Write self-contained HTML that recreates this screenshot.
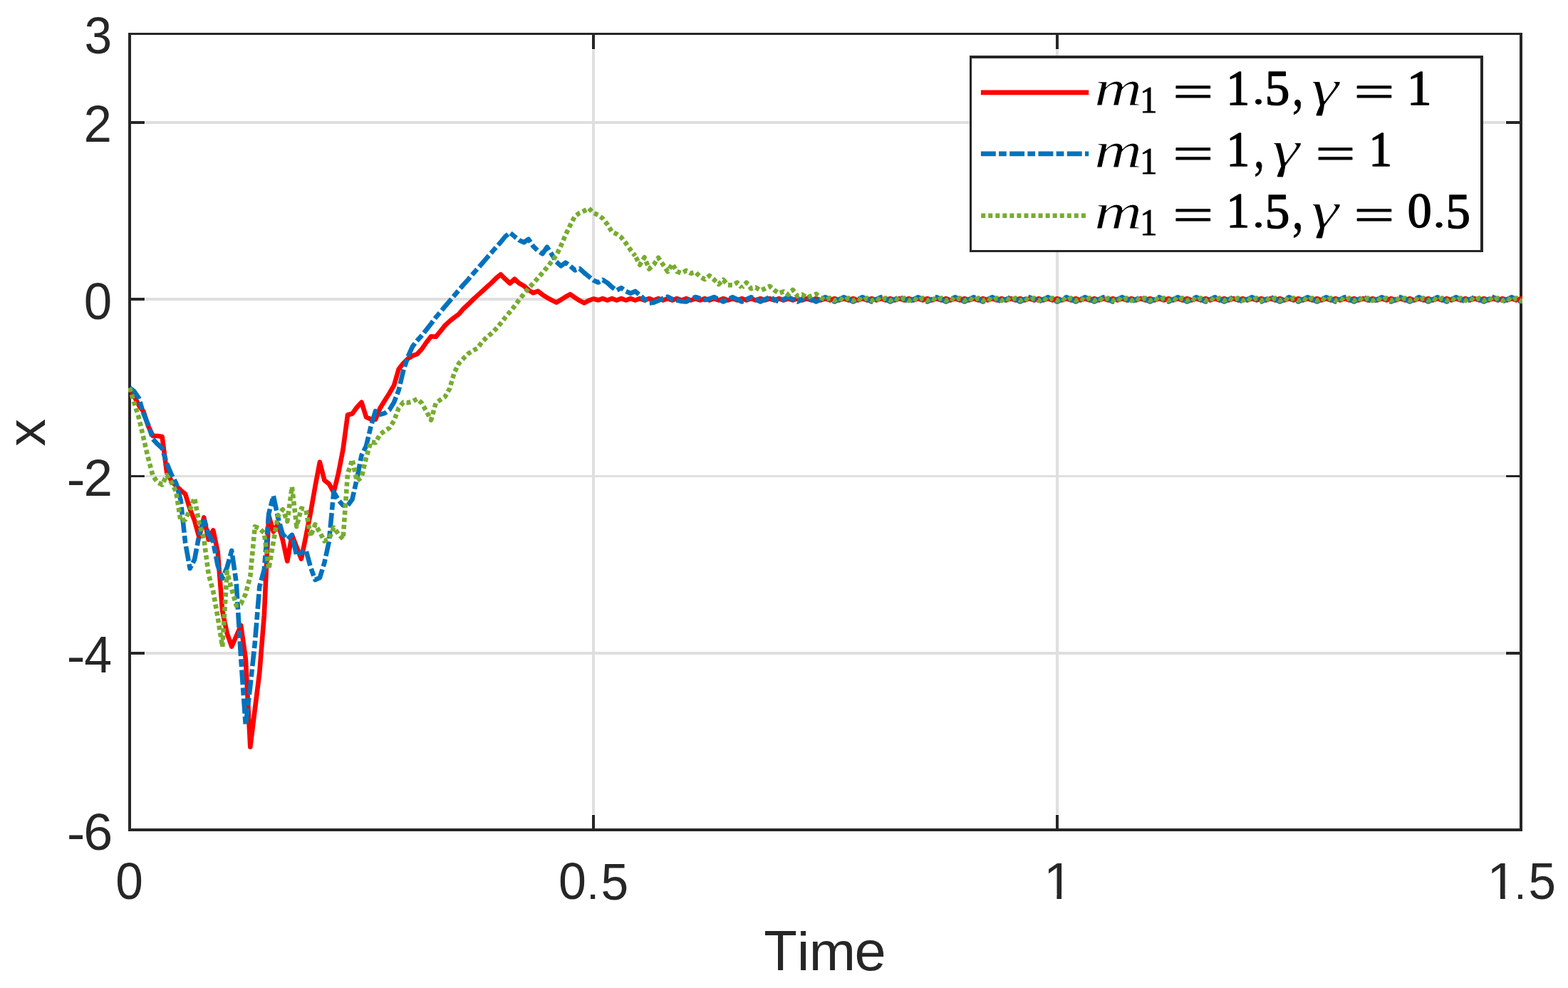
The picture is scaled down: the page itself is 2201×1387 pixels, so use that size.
<!DOCTYPE html>
<html lang="en"><head><meta charset="utf-8"><title>x vs Time</title>
<style>html,body{margin:0;padding:0;background:#fff}svg{display:block}text{white-space:pre}</style></head><body>
<svg xmlns="http://www.w3.org/2000/svg" width="2201" height="1387" viewBox="0 0 2201 1387">
<rect width="2201" height="1387" fill="#fff"/>
<defs><clipPath id="ax"><rect x="180" y="46" width="1957" height="1121"/></clipPath></defs>
<g fill="#dfdfdf">
<rect x="831" y="70" width="4" height="1073"/>
<rect x="1482" y="70" width="4" height="1073"/>
<rect x="204" y="170" width="1909" height="4"/>
<rect x="204" y="418" width="1909" height="4"/>
<rect x="204" y="667" width="1909" height="3"/>
<rect x="204" y="915" width="1909" height="4"/>
</g>
<g fill="#262626">
<rect x="180" y="46" width="1957" height="3"/>
<rect x="180" y="1163" width="1957" height="4"/>
<rect x="180" y="46" width="4" height="1121"/>
<rect x="2133" y="46" width="4" height="1121"/>
<rect x="831" y="46" width="4" height="23"/>
<rect x="831" y="1144" width="4" height="23"/>
<rect x="1482" y="46" width="4" height="23"/>
<rect x="1482" y="1144" width="4" height="23"/>
<rect x="180" y="170" width="23" height="4"/>
<rect x="2114" y="170" width="23" height="4"/>
<rect x="180" y="418" width="23" height="4"/>
<rect x="2114" y="418" width="23" height="4"/>
<rect x="180" y="667" width="23" height="3"/>
<rect x="2114" y="667" width="23" height="3"/>
<rect x="180" y="915" width="23" height="4"/>
<rect x="2114" y="915" width="23" height="4"/>
</g>
<g clip-path="url(#ax)" fill="none" stroke-width="6.6" stroke-linejoin="round" stroke-linecap="butt">
<path stroke="#ff0000" d="M182.0,544.3 L188.5,556.6 L195.0,569.0 L201.5,578.0 L208.0,598.0 L214.6,612.0 L221.1,612.0 L227.6,613.0 L234.1,663.0 L240.6,675.0 L247.1,682.0 L253.6,688.2 L260.1,693.6 L266.6,714.5 L273.1,730.9 L279.6,754.5 L286.2,726.4 L292.7,757.6 L299.2,744.4 L305.7,775.0 L312.2,858.0 L318.7,889.0 L325.2,907.7 L331.7,893.0 L338.2,878.0 L344.8,925.0 L351.3,1048.5 L357.8,996.0 L364.3,944.0 L370.8,864.0 L377.3,724.0 L383.8,746.4 L390.3,735.5 L396.8,758.0 L403.3,787.7 L409.9,751.3 L416.4,768.0 L422.9,784.5 L429.4,753.0 L435.9,720.0 L442.4,683.0 L448.9,648.7 L455.4,674.1 L461.9,679.4 L468.4,691.2 L474.9,665.0 L481.5,631.0 L488.0,582.5 L494.5,580.7 L501.0,571.8 L507.5,564.7 L514.0,585.4 L520.5,588.4 L527.0,589.0 L533.5,573.0 L540.0,562.4 L546.6,552.0 L553.1,540.8 L559.6,518.3 L566.1,510.0 L572.6,503.6 L579.1,499.4 L585.6,497.0 L592.1,490.0 L598.6,480.5 L605.1,472.2 L611.7,472.8 L618.2,465.1 L624.7,456.9 L631.2,450.9 L637.7,445.6 L644.2,440.9 L650.7,433.2 L657.2,427.3 L663.7,420.8 L670.2,414.9 L676.8,409.0 L683.3,403.0 L689.8,397.1 L696.3,390.6 L702.8,385.3 L709.3,391.8 L715.8,397.7 L722.3,391.8 L728.8,397.7 L735.4,401.3 L741.9,407.2 L748.4,411.3 L754.9,408.7 L761.4,413.7 L767.9,417.8 L774.4,421.4 L780.9,424.6 L787.4,420.8 L793.9,416.7 L800.4,413.1 L807.0,417.7 L813.5,421.9 L820.0,425.4 L826.5,421.9 L833.0,419.5 L839.5,421.3 L846.0,419.1 L852.5,421.5 L859.0,419.1 L865.5,421.5 L872.1,419.1 L878.6,421.5 L885.1,419.1 L891.6,421.5 L898.1,419.1 L904.6,421.5 L911.1,419.1 L917.6,421.5 L924.1,419.1 L930.6,421.5 L937.2,419.1 L943.7,421.5 L950.2,419.1 L956.7,421.5 L963.2,419.1 L969.7,421.5 L976.2,419.1 L982.7,421.5 L989.2,419.1 L995.8,421.5 L1002.3,419.1 L1008.8,421.5 L1015.3,419.1 L1021.8,421.5 L1028.3,419.1 L1034.8,421.5 L1041.3,419.1 L1047.8,421.5 L1054.3,419.1 L1060.8,421.5 L1067.4,419.1 L1073.9,421.5 L1080.4,419.1 L1086.9,421.5 L1093.4,419.1 L1099.9,421.5 L1106.4,419.1 L1112.9,421.5 L1119.4,419.1 L1125.9,421.5 L1132.5,419.1 L1139.0,421.5 L1145.5,419.1 L1152.0,421.5 L1158.5,419.1 L1165.0,421.5 L1171.5,419.1 L1178.0,421.5 L1184.5,419.1 L1191.0,421.5 L1197.6,419.1 L1204.1,421.5 L1210.6,419.1 L1217.1,421.5 L1223.6,419.1 L1230.1,421.5 L1236.6,419.1 L1243.1,421.5 L1249.6,419.1 L1256.1,421.5 L1262.7,419.1 L1269.2,421.5 L1275.7,419.1 L1282.2,421.5 L1288.7,419.1 L1295.2,421.5 L1301.7,419.1 L1308.2,421.5 L1314.7,419.1 L1321.2,421.5 L1327.8,419.1 L1334.3,421.5 L1340.8,419.1 L1347.3,421.5 L1353.8,419.1 L1360.3,421.5 L1366.8,419.1 L1373.3,421.5 L1379.8,419.1 L1386.3,421.5 L1392.9,419.1 L1399.4,421.5 L1405.9,419.1 L1412.4,421.5 L1418.9,419.1 L1425.4,421.5 L1431.9,419.1 L1438.4,421.5 L1444.9,419.1 L1451.5,421.5 L1458.0,419.1 L1464.5,421.5 L1471.0,419.1 L1477.5,421.5 L1484.0,419.1 L1490.5,421.5 L1497.0,419.1 L1503.5,421.5 L1510.0,419.1 L1516.5,421.5 L1523.1,419.1 L1529.6,421.5 L1536.1,419.1 L1542.6,421.5 L1549.1,419.1 L1555.6,421.5 L1562.1,419.1 L1568.6,421.5 L1575.1,419.1 L1581.6,421.5 L1588.2,419.1 L1594.7,421.5 L1601.2,419.1 L1607.7,421.5 L1614.2,419.1 L1620.7,421.5 L1627.2,419.1 L1633.7,421.5 L1640.2,419.1 L1646.8,421.5 L1653.3,419.1 L1659.8,421.5 L1666.3,419.1 L1672.8,421.5 L1679.3,419.1 L1685.8,421.5 L1692.3,419.1 L1698.8,421.5 L1705.3,419.1 L1711.8,421.5 L1718.4,419.1 L1724.9,421.5 L1731.4,419.1 L1737.9,421.5 L1744.4,419.1 L1750.9,421.5 L1757.4,419.1 L1763.9,421.5 L1770.4,419.1 L1777.0,421.5 L1783.5,419.1 L1790.0,421.5 L1796.5,419.1 L1803.0,421.5 L1809.5,419.1 L1816.0,421.5 L1822.5,419.1 L1829.0,421.5 L1835.5,419.1 L1842.0,421.5 L1848.6,419.1 L1855.1,421.5 L1861.6,419.1 L1868.1,421.5 L1874.6,419.1 L1881.1,421.5 L1887.6,419.1 L1894.1,421.5 L1900.6,419.1 L1907.1,421.5 L1913.7,419.1 L1920.2,421.5 L1926.7,419.1 L1933.2,421.5 L1939.7,419.1 L1946.2,421.5 L1952.7,419.1 L1959.2,421.5 L1965.7,419.1 L1972.2,421.5 L1978.8,419.1 L1985.3,421.5 L1991.8,419.1 L1998.3,421.5 L2004.8,419.1 L2011.3,421.5 L2017.8,419.1 L2024.3,421.5 L2030.8,419.1 L2037.3,421.5 L2043.9,419.1 L2050.4,421.5 L2056.9,419.1 L2063.4,421.5 L2069.9,419.1 L2076.4,421.5 L2082.9,419.1 L2089.4,421.5 L2095.9,419.1 L2102.4,421.5 L2109.0,419.1 L2115.5,421.5 L2122.0,419.1 L2128.5,421.5 L2135.0,419.1 L2138,419.1"/>
<path stroke="#0072bd" stroke-dasharray="20.9 4.3 10.7 4.4" d="M182.0,544.3 L188.5,549.5 L195.0,559.0 L201.5,580.8 L208.0,596.2 L214.6,616.3 L221.1,623.4 L227.6,629.3 L234.1,650.6 L240.6,666.0 L247.1,678.0 L253.6,701.8 L260.1,761.8 L266.6,798.0 L273.1,785.4 L279.6,750.9 L286.2,727.7 L292.7,750.0 L299.2,760.9 L305.7,794.0 L312.2,812.0 L318.7,796.5 L325.2,773.0 L331.7,818.0 L338.2,924.0 L344.8,1018.0 L351.3,963.0 L357.8,902.7 L364.3,823.6 L370.8,800.0 L377.3,721.0 L383.8,696.0 L390.3,727.0 L396.8,750.0 L403.3,757.0 L409.9,751.0 L416.4,780.0 L422.9,776.0 L429.4,772.0 L435.9,796.0 L442.4,814.0 L448.9,811.0 L455.4,790.0 L461.9,760.0 L468.4,690.6 L474.9,701.6 L481.5,709.5 L488.0,709.8 L494.5,701.0 L501.0,672.0 L507.5,639.2 L514.0,626.2 L520.5,599.0 L527.0,577.1 L533.5,581.9 L540.0,580.1 L546.6,575.4 L553.1,564.7 L559.6,547.9 L566.1,520.7 L572.6,500.6 L579.1,486.4 L585.6,478.1 L592.1,471.0 L598.6,462.8 L605.1,454.5 L611.7,445.6 L618.2,437.9 L624.7,430.2 L631.2,422.6 L637.7,414.9 L644.2,407.2 L650.7,399.5 L657.2,392.4 L663.7,384.7 L670.2,377.2 L676.8,369.7 L683.3,362.2 L689.8,354.7 L696.3,347.3 L702.8,340.0 L709.3,332.0 L715.8,326.7 L722.3,332.0 L728.8,337.3 L735.4,340.3 L741.9,335.8 L748.4,345.6 L754.9,352.1 L761.4,356.3 L767.9,346.8 L774.4,356.9 L780.9,367.5 L787.4,373.4 L793.9,368.7 L800.4,373.4 L807.0,379.3 L813.5,377.0 L820.0,382.9 L826.5,388.2 L833.0,393.5 L839.5,396.5 L846.0,392.9 L852.5,397.0 L859.0,403.0 L865.5,407.7 L872.1,404.1 L878.6,408.9 L885.1,411.8 L891.6,408.9 L898.1,414.2 L904.6,420.1 L911.1,425.4 L917.6,424.8 L924.1,421.9 L930.6,418.9 L937.2,416.6 L943.7,420.0 L950.2,421.5 L956.7,423.0 L963.2,423.5 L969.7,420.0 L976.2,417.0 L982.7,419.0 L989.2,421.0 L995.8,419.5 L1002.3,417.0 L1008.8,420.3 L1015.3,423.5 L1021.8,420.3 L1028.3,417.1 L1034.8,420.3 L1041.3,423.5 L1047.8,420.3 L1054.3,417.1 L1060.8,420.3 L1067.4,423.5 L1073.9,420.3 L1080.4,417.1 L1086.9,420.3 L1093.4,423.5 L1099.9,420.3 L1106.4,417.1 L1112.9,420.3 L1119.4,423.5 L1125.9,420.3 L1132.5,417.1 L1139.0,420.3 L1145.5,423.5 L1152.0,420.3 L1158.5,417.1 L1165.0,420.3 L1171.5,423.5 L1178.0,420.3 L1184.5,417.1 L1191.0,420.3 L1197.6,423.5 L1204.1,420.3 L1210.6,417.1 L1217.1,420.3 L1223.6,423.5 L1230.1,420.3 L1236.6,417.1 L1243.1,420.3 L1249.6,423.5 L1256.1,420.3 L1262.7,417.1 L1269.2,420.3 L1275.7,423.5 L1282.2,420.3 L1288.7,417.1 L1295.2,420.3 L1301.7,423.5 L1308.2,420.3 L1314.7,417.1 L1321.2,420.3 L1327.8,423.5 L1334.3,420.3 L1340.8,417.1 L1347.3,420.3 L1353.8,423.5 L1360.3,420.3 L1366.8,417.1 L1373.3,420.3 L1379.8,423.5 L1386.3,420.3 L1392.9,417.1 L1399.4,420.3 L1405.9,423.5 L1412.4,420.3 L1418.9,417.1 L1425.4,420.3 L1431.9,423.5 L1438.4,420.3 L1444.9,417.1 L1451.5,420.3 L1458.0,423.5 L1464.5,420.3 L1471.0,417.1 L1477.5,420.3 L1484.0,423.5 L1490.5,420.3 L1497.0,417.1 L1503.5,420.3 L1510.0,423.5 L1516.5,420.3 L1523.1,417.1 L1529.6,420.3 L1536.1,423.5 L1542.6,420.3 L1549.1,417.1 L1555.6,420.3 L1562.1,423.5 L1568.6,420.3 L1575.1,417.1 L1581.6,420.3 L1588.2,423.5 L1594.7,420.3 L1601.2,417.1 L1607.7,420.3 L1614.2,423.5 L1620.7,420.3 L1627.2,417.1 L1633.7,420.3 L1640.2,423.5 L1646.8,420.3 L1653.3,417.1 L1659.8,420.3 L1666.3,423.5 L1672.8,420.3 L1679.3,417.1 L1685.8,420.3 L1692.3,423.5 L1698.8,420.3 L1705.3,417.1 L1711.8,420.3 L1718.4,423.5 L1724.9,420.3 L1731.4,417.1 L1737.9,420.3 L1744.4,423.5 L1750.9,420.3 L1757.4,417.1 L1763.9,420.3 L1770.4,423.5 L1777.0,420.3 L1783.5,417.1 L1790.0,420.3 L1796.5,423.5 L1803.0,420.3 L1809.5,417.1 L1816.0,420.3 L1822.5,423.5 L1829.0,420.3 L1835.5,417.1 L1842.0,420.3 L1848.6,423.5 L1855.1,420.3 L1861.6,417.1 L1868.1,420.3 L1874.6,423.5 L1881.1,420.3 L1887.6,417.1 L1894.1,420.3 L1900.6,423.5 L1907.1,420.3 L1913.7,417.1 L1920.2,420.3 L1926.7,423.5 L1933.2,420.3 L1939.7,417.1 L1946.2,420.3 L1952.7,423.5 L1959.2,420.3 L1965.7,417.1 L1972.2,420.3 L1978.8,423.5 L1985.3,420.3 L1991.8,417.1 L1998.3,420.3 L2004.8,423.5 L2011.3,420.3 L2017.8,417.1 L2024.3,420.3 L2030.8,423.5 L2037.3,420.3 L2043.9,417.1 L2050.4,420.3 L2056.9,423.5 L2063.4,420.3 L2069.9,417.1 L2076.4,420.3 L2082.9,423.5 L2089.4,420.3 L2095.9,417.1 L2102.4,420.3 L2109.0,423.5 L2115.5,420.3 L2122.0,417.1 L2128.5,420.3 L2135.0,423.5 L2138,423.5"/>
<path stroke="#77ac30" stroke-dasharray="6 4.05" d="M182.0,544.3 L188.5,566.0 L195.0,587.0 L201.5,615.0 L208.0,643.0 L214.6,668.0 L221.1,677.0 L227.6,680.5 L234.1,667.0 L240.6,677.5 L247.1,690.0 L253.6,731.3 L260.1,729.5 L266.6,715.4 L273.1,699.1 L279.6,735.4 L286.2,756.3 L292.7,806.0 L299.2,830.0 L305.7,867.0 L312.2,908.0 L318.7,803.0 L325.2,827.3 L331.7,850.0 L338.2,847.7 L344.8,833.6 L351.3,809.0 L357.8,739.3 L364.3,741.8 L370.8,748.4 L377.3,798.7 L383.8,760.8 L390.3,723.9 L396.8,715.2 L403.3,731.9 L409.9,683.5 L416.4,739.2 L422.9,713.7 L429.4,715.2 L435.9,753.0 L442.4,736.3 L448.9,747.2 L455.4,759.6 L461.9,756.7 L468.4,740.6 L474.9,749.4 L481.5,756.7 L488.0,665.2 L494.5,645.1 L501.0,675.3 L507.5,670.0 L514.0,642.8 L520.5,620.3 L527.0,621.5 L533.5,609.7 L540.0,605.0 L546.6,600.8 L553.1,590.7 L559.6,573.0 L566.1,564.7 L572.6,565.3 L579.1,563.5 L585.6,560.0 L592.1,566.0 L598.6,577.7 L605.1,589.6 L611.7,566.0 L618.2,561.2 L624.7,557.0 L631.2,545.5 L637.7,523.1 L644.2,510.0 L650.7,503.0 L657.2,496.5 L663.7,492.3 L670.2,488.8 L676.8,479.9 L683.3,473.4 L689.8,468.1 L696.3,461.6 L702.8,453.9 L709.3,445.6 L715.8,437.9 L722.3,429.7 L728.8,420.8 L735.4,412.5 L741.9,404.8 L748.4,397.7 L754.9,390.6 L761.4,383.0 L767.9,375.3 L774.4,366.9 L780.9,358.6 L787.4,345.0 L793.9,329.7 L800.4,316.1 L807.0,303.6 L813.5,298.9 L820.0,296.0 L826.5,292.4 L833.0,298.9 L839.5,301.9 L846.0,306.6 L852.5,314.9 L859.0,325.5 L865.5,328.5 L872.1,333.2 L878.6,341.5 L885.1,350.9 L891.6,359.2"/>
<path stroke="#77ac30" stroke-dasharray="6 4.05" stroke-dashoffset="7.78" d="M891.6,359.2 L898.1,371.7 L904.6,361.3 L911.1,377.6 L917.6,371.6 L924.1,361.8 L930.6,371.3 L937.2,381.3 L943.7,370.5 L950.2,381.2 L956.7,383.5 L963.2,379.9 L969.7,383.7 L976.2,382.2 L982.7,388.3 L989.2,392.1 L995.8,387.0 L1002.3,392.6 L1008.8,399.1 L1015.3,392.7 L1021.8,400.1 L1028.3,400.3 L1034.8,396.7 L1041.3,403.9"/>
<path stroke="#77ac30" stroke-dasharray="6 4.05" stroke-dashoffset="3.34" d="M1041.3,403.9 L1047.8,396.7 L1054.3,405.2 L1060.8,403.5 L1067.4,407.7 L1073.9,405.1 L1080.4,401.8 L1086.9,407.3 L1093.4,411.7 L1099.9,409.3 L1106.4,413.7 L1112.9,406.9 L1119.4,415.7 L1125.9,413.5 L1132.5,417.9 L1139.0,415.3 L1145.5,412.7 L1152.0,417.6 L1158.5,421.5 L1165.0,418.4 L1171.5,422.0 L1178.0,418.6 L1184.5,422.2 L1191.0,418.4 L1197.6,422.2 L1204.1,418.4 L1210.6,422.2 L1217.1,418.4 L1223.6,422.2 L1230.1,418.4 L1236.6,422.2 L1243.1,418.4 L1249.6,422.2 L1256.1,418.4 L1262.7,422.2 L1269.2,418.4 L1275.7,422.2 L1282.2,418.4 L1288.7,422.2 L1295.2,418.4 L1301.7,422.2 L1308.2,418.4 L1314.7,422.2 L1321.2,418.4 L1327.8,422.2 L1334.3,418.4 L1340.8,422.2 L1347.3,418.4 L1353.8,422.2 L1360.3,418.4 L1366.8,422.2 L1373.3,418.4 L1379.8,422.2 L1386.3,418.4 L1392.9,422.2 L1399.4,418.4 L1405.9,422.2 L1412.4,418.4 L1418.9,422.2 L1425.4,418.4 L1431.9,422.2 L1438.4,418.4 L1444.9,422.2 L1451.5,418.4 L1458.0,422.2 L1464.5,418.4 L1471.0,422.2 L1477.5,418.4 L1484.0,422.2 L1490.5,418.4 L1497.0,422.2 L1503.5,418.4 L1510.0,422.2 L1516.5,418.4 L1523.1,422.2 L1529.6,418.4 L1536.1,422.2 L1542.6,418.4 L1549.1,422.2 L1555.6,418.4 L1562.1,422.2 L1568.6,418.4 L1575.1,422.2 L1581.6,418.4 L1588.2,422.2 L1594.7,418.4 L1601.2,422.2 L1607.7,418.4 L1614.2,422.2 L1620.7,418.4 L1627.2,422.2 L1633.7,418.4 L1640.2,422.2 L1646.8,418.4 L1653.3,422.2 L1659.8,418.4 L1666.3,422.2 L1672.8,418.4 L1679.3,422.2 L1685.8,418.4 L1692.3,422.2 L1698.8,418.4 L1705.3,422.2 L1711.8,418.4 L1718.4,422.2 L1724.9,418.4 L1731.4,422.2 L1737.9,418.4 L1744.4,422.2 L1750.9,418.4 L1757.4,422.2 L1763.9,418.4 L1770.4,422.2 L1777.0,418.4 L1783.5,422.2 L1790.0,418.4 L1796.5,422.2 L1803.0,418.4 L1809.5,422.2 L1816.0,418.4 L1822.5,422.2 L1829.0,418.4 L1835.5,422.2 L1842.0,418.4 L1848.6,422.2 L1855.1,418.4 L1861.6,422.2 L1868.1,418.4 L1874.6,422.2 L1881.1,418.4 L1887.6,422.2 L1894.1,418.4 L1900.6,422.2 L1907.1,418.4 L1913.7,422.2 L1920.2,418.4 L1926.7,422.2 L1933.2,418.4 L1939.7,422.2 L1946.2,418.4 L1952.7,422.2 L1959.2,418.4 L1965.7,422.2 L1972.2,418.4 L1978.8,422.2 L1985.3,418.4 L1991.8,422.2 L1998.3,418.4 L2004.8,422.2 L2011.3,418.4 L2017.8,422.2 L2024.3,418.4 L2030.8,422.2 L2037.3,418.4 L2043.9,422.2 L2050.4,418.4 L2056.9,422.2 L2063.4,418.4 L2069.9,422.2 L2076.4,418.4 L2082.9,422.2 L2089.4,418.4 L2095.9,422.2 L2102.4,418.4 L2109.0,422.2 L2115.5,418.4 L2122.0,422.2 L2128.5,418.4 L2135.0,422.2 L2138,422.2"/>
</g>
<rect x="1361" y="78" width="721" height="276" fill="#fff"/>
<g fill="#262626">
<rect x="1361" y="78" width="721" height="4"/>
<rect x="1361" y="351" width="721" height="3"/>
<rect x="1361" y="78" width="3" height="276"/>
<rect x="2078" y="78" width="4" height="276"/>
</g>
<g fill="none" stroke-width="6.6">
<line x1="1376.9" y1="129.9" x2="1528.2" y2="129.9" stroke="#ff0000"/>
<line x1="1376.9" y1="215.9" x2="1528.2" y2="215.9" stroke="#0072bd" stroke-dasharray="20.9 4.3 10.7 4.4"/>
<line x1="1377.2" y1="302.7" x2="1524" y2="302.7" stroke="#77ac30" stroke-dasharray="6 4.05"/>
</g>
<g><text transform="matrix(0.9332 0 0 0.7152 1535.93 148.30)" font-family="'Liberation Serif', serif" font-size="100" font-style="italic" fill="#000" stroke="#fff" stroke-width="1.000" stroke-linejoin="round" vector-effect="non-scaling-stroke">m</text><text transform="matrix(0.4914 0 0 0.5241 1600.03 157.75)" font-family="'Liberation Serif', serif" font-size="100" fill="#000" stroke="#000" stroke-width="0.900" stroke-linejoin="round" vector-effect="non-scaling-stroke">1</text><text transform="matrix(1.0100 0 0 0.6520 1646.22 151.25)" font-family="'Liberation Serif', serif" font-size="100" fill="#000" stroke="#000" stroke-width="1.500" stroke-linejoin="round" vector-effect="non-scaling-stroke">=</text><text transform="matrix(0.6533 0 0 0.6907 1721.56 146.50)" font-family="'Liberation Serif', serif" font-size="100" fill="#000" stroke="#000" stroke-width="1.600" stroke-linejoin="round" vector-effect="non-scaling-stroke">1</text><text transform="matrix(0.7193 0 0 0.6178 1757.56 146.33)" font-family="'Liberation Serif', serif" font-size="100" fill="#000" stroke="#000" stroke-width="0.600" stroke-linejoin="round" vector-effect="non-scaling-stroke">.</text><text transform="matrix(0.6901 0 0 0.7042 1775.69 147.21)" font-family="'Liberation Serif', serif" font-size="100" fill="#000" stroke="#000" stroke-width="1.600" stroke-linejoin="round" vector-effect="non-scaling-stroke">5</text><text transform="matrix(0.6446 0 0 0.8137 1813.84 148.28)" font-family="'Liberation Serif', serif" font-size="100" fill="#000" stroke="#000" stroke-width="0.600" stroke-linejoin="round" vector-effect="non-scaling-stroke">,</text><text transform="matrix(0.9825 0 0 0.7129 1840.47 147.67)" font-family="'Liberation Serif', serif" font-size="100" font-style="italic" fill="#000" stroke="#fff" stroke-width="1.100" stroke-linejoin="round" vector-effect="non-scaling-stroke">γ</text><text transform="matrix(1.0079 0 0 0.6520 1900.43 151.25)" font-family="'Liberation Serif', serif" font-size="100" fill="#000" stroke="#000" stroke-width="1.500" stroke-linejoin="round" vector-effect="non-scaling-stroke">=</text><text transform="matrix(0.6902 0 0 0.6907 1975.03 146.50)" font-family="'Liberation Serif', serif" font-size="100" fill="#000" stroke="#000" stroke-width="1.600" stroke-linejoin="round" vector-effect="non-scaling-stroke">1</text></g>
<g><text transform="matrix(0.9332 0 0 0.7152 1535.93 234.60)" font-family="'Liberation Serif', serif" font-size="100" font-style="italic" fill="#000" stroke="#fff" stroke-width="1.000" stroke-linejoin="round" vector-effect="non-scaling-stroke">m</text><text transform="matrix(0.4914 0 0 0.5241 1600.03 244.05)" font-family="'Liberation Serif', serif" font-size="100" fill="#000" stroke="#000" stroke-width="0.900" stroke-linejoin="round" vector-effect="non-scaling-stroke">1</text><text transform="matrix(1.0100 0 0 0.6520 1646.22 237.55)" font-family="'Liberation Serif', serif" font-size="100" fill="#000" stroke="#000" stroke-width="1.500" stroke-linejoin="round" vector-effect="non-scaling-stroke">=</text><text transform="matrix(0.6533 0 0 0.6907 1721.56 232.80)" font-family="'Liberation Serif', serif" font-size="100" fill="#000" stroke="#000" stroke-width="1.600" stroke-linejoin="round" vector-effect="non-scaling-stroke">1</text><text transform="matrix(0.5976 0 0 0.8137 1760.02 234.58)" font-family="'Liberation Serif', serif" font-size="100" fill="#000" stroke="#000" stroke-width="0.600" stroke-linejoin="round" vector-effect="non-scaling-stroke">,</text><text transform="matrix(0.9800 0 0 0.7129 1785.78 233.97)" font-family="'Liberation Serif', serif" font-size="100" font-style="italic" fill="#000" stroke="#fff" stroke-width="1.100" stroke-linejoin="round" vector-effect="non-scaling-stroke">γ</text><text transform="matrix(0.9928 0 0 0.6520 1846.41 237.55)" font-family="'Liberation Serif', serif" font-size="100" fill="#000" stroke="#000" stroke-width="1.500" stroke-linejoin="round" vector-effect="non-scaling-stroke">=</text><text transform="matrix(0.6505 0 0 0.6907 1921.58 232.80)" font-family="'Liberation Serif', serif" font-size="100" fill="#000" stroke="#000" stroke-width="1.600" stroke-linejoin="round" vector-effect="non-scaling-stroke">1</text></g>
<g><text transform="matrix(0.9332 0 0 0.7152 1535.93 320.60)" font-family="'Liberation Serif', serif" font-size="100" font-style="italic" fill="#000" stroke="#fff" stroke-width="1.000" stroke-linejoin="round" vector-effect="non-scaling-stroke">m</text><text transform="matrix(0.4914 0 0 0.5241 1600.03 330.05)" font-family="'Liberation Serif', serif" font-size="100" fill="#000" stroke="#000" stroke-width="0.900" stroke-linejoin="round" vector-effect="non-scaling-stroke">1</text><text transform="matrix(1.0100 0 0 0.6520 1646.22 323.55)" font-family="'Liberation Serif', serif" font-size="100" fill="#000" stroke="#000" stroke-width="1.500" stroke-linejoin="round" vector-effect="non-scaling-stroke">=</text><text transform="matrix(0.6533 0 0 0.6907 1721.56 318.80)" font-family="'Liberation Serif', serif" font-size="100" fill="#000" stroke="#000" stroke-width="1.600" stroke-linejoin="round" vector-effect="non-scaling-stroke">1</text><text transform="matrix(0.7193 0 0 0.6178 1757.56 318.63)" font-family="'Liberation Serif', serif" font-size="100" fill="#000" stroke="#000" stroke-width="0.600" stroke-linejoin="round" vector-effect="non-scaling-stroke">.</text><text transform="matrix(0.6901 0 0 0.7042 1775.69 319.51)" font-family="'Liberation Serif', serif" font-size="100" fill="#000" stroke="#000" stroke-width="1.600" stroke-linejoin="round" vector-effect="non-scaling-stroke">5</text><text transform="matrix(0.6446 0 0 0.8137 1813.84 320.58)" font-family="'Liberation Serif', serif" font-size="100" fill="#000" stroke="#000" stroke-width="0.600" stroke-linejoin="round" vector-effect="non-scaling-stroke">,</text><text transform="matrix(0.9825 0 0 0.7129 1840.47 319.97)" font-family="'Liberation Serif', serif" font-size="100" font-style="italic" fill="#000" stroke="#fff" stroke-width="1.100" stroke-linejoin="round" vector-effect="non-scaling-stroke">γ</text><text transform="matrix(1.0079 0 0 0.6520 1900.43 323.55)" font-family="'Liberation Serif', serif" font-size="100" fill="#000" stroke="#000" stroke-width="1.500" stroke-linejoin="round" vector-effect="non-scaling-stroke">=</text><text transform="matrix(0.6772 0 0 0.6891 1975.82 319.43)" font-family="'Liberation Serif', serif" font-size="100" fill="#000" stroke="#000" stroke-width="1.600" stroke-linejoin="round" vector-effect="non-scaling-stroke">0</text><text transform="matrix(0.7278 0 0 0.6178 2011.00 318.63)" font-family="'Liberation Serif', serif" font-size="100" fill="#000" stroke="#000" stroke-width="0.600" stroke-linejoin="round" vector-effect="non-scaling-stroke">.</text><text transform="matrix(0.6876 0 0 0.7042 2029.60 319.51)" font-family="'Liberation Serif', serif" font-size="100" fill="#000" stroke="#000" stroke-width="1.600" stroke-linejoin="round" vector-effect="non-scaling-stroke">5</text></g>
<defs><clipPath id="nofoot"><path d="M0,-110 H60 V-9.6 H34.05 V3 H25.1 V-9.6 H0 Z"/></clipPath></defs>
<g><text transform="matrix(0.6939 0 0 0.7161 118.46 75.05)" font-family="'Liberation Sans', sans-serif" font-size="100" fill="#262626">3</text></g>
<g><text transform="matrix(0.7090 0 0 0.7175 117.53 199.40)" font-family="'Liberation Sans', sans-serif" font-size="100" fill="#262626">2</text></g>
<g><text transform="matrix(0.7081 0 0 0.7196 117.78 448.20)" font-family="'Liberation Sans', sans-serif" font-size="100" fill="#262626">0</text></g>
<g><text transform="matrix(0.7864 0 0 0.7168 93.51 697.14)" font-family="'Liberation Sans', sans-serif" font-size="100" fill="#262626">-</text><text transform="matrix(0.7288 0 0 0.7161 117.53 696.20)" font-family="'Liberation Sans', sans-serif" font-size="100" fill="#262626">2</text></g>
<g><text transform="matrix(0.7864 0 0 0.7040 93.51 945.35)" font-family="'Liberation Sans', sans-serif" font-size="100" fill="#262626">-</text><text transform="matrix(0.6985 0 0 0.7137 118.30 944.00)" font-family="'Liberation Sans', sans-serif" font-size="100" fill="#262626">4</text></g>
<g><text transform="matrix(0.7700 0 0 0.7040 93.68 1194.05)" font-family="'Liberation Sans', sans-serif" font-size="100" fill="#262626">-</text><text transform="matrix(0.7368 0 0 0.7246 117.36 1193.49)" font-family="'Liberation Sans', sans-serif" font-size="100" fill="#262626">6</text></g>
<g><text transform="matrix(0.6945 0 0 0.7217 162.19 1262.40)" font-family="'Liberation Sans', sans-serif" font-size="100" fill="#262626">0</text></g>
<g><text transform="matrix(0.6998 0 0 0.7246 784.12 1262.49)" font-family="'Liberation Sans', sans-serif" font-size="100" fill="#262626">0</text><text transform="matrix(0.6407 0 0 0.5704 823.15 1262.10)" font-family="'Liberation Sans', sans-serif" font-size="100" fill="#262626">.</text><text transform="matrix(0.6960 0 0 0.7180 843.41 1262.50)" font-family="'Liberation Sans', sans-serif" font-size="100" fill="#262626">5</text></g>
<g><text transform="matrix(0.7388 0 0 0.7282 1464.89 1262.00)" clip-path="url(#nofoot)" font-family="'Liberation Sans', sans-serif" font-size="100" fill="#262626">1</text></g>
<g><text transform="matrix(0.7449 0 0 0.7297 2087.33 1262.20)" clip-path="url(#nofoot)" font-family="'Liberation Sans', sans-serif" font-size="100" fill="#262626">1</text><text transform="matrix(0.6091 0 0 0.5704 2125.54 1262.20)" font-family="'Liberation Sans', sans-serif" font-size="100" fill="#262626">.</text><text transform="matrix(0.6918 0 0 0.7180 2145.53 1262.40)" font-family="'Liberation Sans', sans-serif" font-size="100" fill="#262626">5</text></g>
<g><text transform="matrix(0.7640 0 0 0.8009 1072.18 1362.00)" font-family="'Liberation Sans', sans-serif" font-size="100" fill="#262626">T</text><text transform="matrix(0.7964 0 0 0.7604 1118.77 1362.00)" font-family="'Liberation Sans', sans-serif" font-size="100" fill="#262626">i</text><text transform="matrix(0.7842 0 0 0.7638 1135.84 1362.00)" font-family="'Liberation Sans', sans-serif" font-size="100" fill="#262626">m</text><text transform="matrix(0.7949 0 0 0.7703 1199.42 1362.35)" font-family="'Liberation Sans', sans-serif" font-size="100" fill="#262626">e</text></g>
<g><text transform="matrix(0 -0.7761 0.7590 0 63.00 626.87)" font-family="'Liberation Sans', sans-serif" font-size="100" fill="#262626">x</text></g>
</svg></body></html>
